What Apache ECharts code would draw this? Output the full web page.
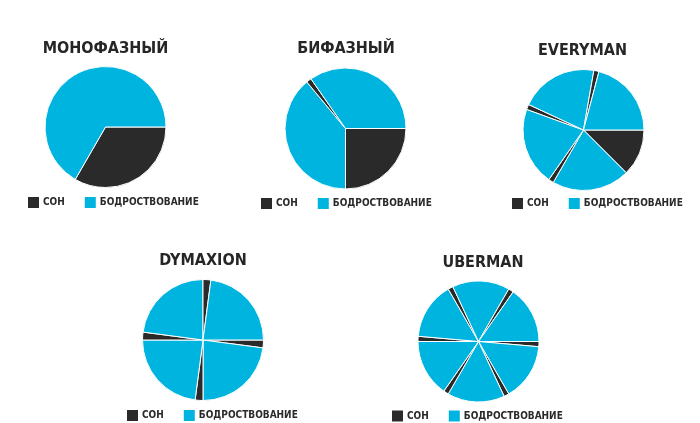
<!DOCTYPE html>
<html>
<head>
<meta charset="utf-8">
<script src="https://cdn.jsdelivr.net/npm/echarts@6/dist/echarts.min.js"></script>
<style>
html, body { margin: 0; padding: 0; background: #fff; }
#chart { width: 700px; height: 423px; }
</style>
</head>
<body>
<div id="chart"></div>
<script>
// режимы сна, часы за сутки (от 3 часов на циферблате по часовой)
var titles = ['МОНОФАЗНЫЙ', 'БИФАЗНЫЙ', 'EVERYMAN', 'DYMAXION', 'UBERMAN'];
var legendNames = ['СОН', 'БОДРОСТВОВАНИЕ'];

var monoHours = [8, 16];
var biHours = [6, 9.35, 0.33, 8.32];
var everymanHours = [3, 5, 0.33, 5, 0.33, 5, 0.33, 5.01];
var dymaxionHours = [0.5, 5.5, 0.5, 5.5, 0.5, 5.5, 0.5, 5.5];
var ubermanHours = [0.33, 3.67, 0.33, 3.67, 0.33, 3.67, 0.33, 3.67, 0.33, 3.67, 0.33, 3.67];

var allHours = [monoHours, biHours, everymanHours, dymaxionHours, ubermanHours];

var SLEEP = '#2a2a2a';
var AWAKE = '#00b4e0';

// раскладка: центр круга, заголовок, легенда
var centers = [[105.5, 127], [345.5, 128.5], [583.5, 130], [203, 340], [478.5, 341.5]];
var titleTops = [41, 41, 43, 253, 255];
var titleX = [105.5, 346, 582.5, 203, 483];
var legendPos = [[28, 197], [261, 198], [512, 198], [127, 410], [392, 410.5]];

var option = {
    animation: false,
    backgroundColor: '#fff',
    title: [],
    legend: [],
    series: []
};

for (var i = 0; i < titles.length; i++) {
    option.title.push({
        text: titles[i],
        left: titleX[i],
        top: titleTops[i],
        textAlign: 'center',
        padding: 0,
        textStyle: {
            fontFamily: 'DejaVu Sans Condensed',
            fontWeight: 'bold',
            fontSize: 16,
            color: '#262626'
        }
    });
    option.legend.push({
        data: legendNames,
        left: legendPos[i][0],
        top: legendPos[i][1],
        padding: 0,
        itemWidth: 11,
        itemHeight: 11,
        itemGap: 20,
        icon: 'rect',
        selectedMode: false,
        itemStyle: { borderWidth: 0 },
        textStyle: {
            fontFamily: 'DejaVu Sans Condensed',
            fontWeight: 'bold',
            fontSize: 10,
            color: '#2a2a2a',
            padding: [0, 0, 0, -1]
        }
    });
    var items = [];
    var hrs = allHours[i];
    for (var j = 0; j < hrs.length; j++) {
        var sleep = (j % 2 == 0);
        items.push({
            name: sleep ? legendNames[0] : legendNames[1],
            value: hrs[j],
            itemStyle: { color: sleep ? SLEEP : AWAKE }
        });
    }
    option.series.push({
        type: 'pie',
        center: centers[i],
        radius: 60.5,
        startAngle: 0,
        clockwise: true,
        minAngle: 0,
        avoidLabelOverlap: false,
        label: { show: false },
        labelLine: { show: false },
        emphasis: { disabled: true },
        itemStyle: { borderColor: '#fff', borderWidth: 1 },
        data: items
    });
}

var myChart = echarts.init(document.getElementById('chart'));
myChart.setOption(option);
</script>
</body>
</html>
